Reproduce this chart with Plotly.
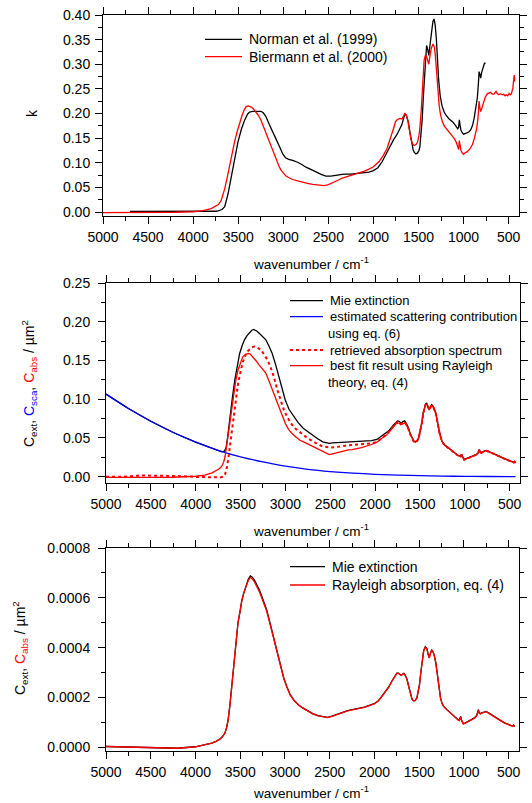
import plotly.graph_objects as go

# ---------------- Top panel: imaginary refractive index k ----------------
norman_wn = [4700, 4300, 3950, 3740, 3680, 3650, 3614, 3585, 3558, 3530, 3503, 3465, 3430, 3395, 3374,
             3340, 3290, 3246, 3220, 3190, 3154, 3115, 3080, 3040, 3006, 2975, 2940, 2896, 2860, 2841,
             2790, 2749, 2700, 2638, 2580, 2528, 2473, 2400, 2330, 2250, 2150, 2050, 2000, 1950, 1904,
             1860, 1813, 1776, 1740, 1710, 1685, 1665, 1649, 1630, 1612, 1595, 1576, 1560, 1547, 1528,
             1510, 1495, 1485, 1470, 1459, 1445, 1430, 1418, 1410, 1398, 1386, 1375, 1357, 1340, 1328,
             1315, 1302, 1290, 1277, 1260, 1240, 1215, 1193, 1160, 1120, 1090, 1065, 1055, 1047, 1040,
             1029, 1015, 1000, 970, 940, 920, 900, 883, 865, 847, 835, 828, 820, 810, 800, 781, 768, 756]
norman_k = [0.0012, 0.0008, 0.0008, 0.0015, 0.005, 0.011, 0.036, 0.065, 0.095, 0.120, 0.142, 0.168, 0.186, 0.199, 0.203,
            0.2045, 0.205, 0.2045, 0.201, 0.193, 0.177, 0.160, 0.148, 0.132, 0.118, 0.110, 0.107, 0.105, 0.103, 0.101,
            0.096, 0.091, 0.087, 0.081, 0.0765, 0.073, 0.073, 0.075, 0.077, 0.077, 0.079, 0.081, 0.084, 0.090, 0.102,
            0.118, 0.136, 0.147, 0.157, 0.167, 0.177, 0.190, 0.200, 0.194, 0.182, 0.162, 0.140, 0.127, 0.121, 0.118,
            0.120, 0.125, 0.132, 0.160, 0.188, 0.238, 0.288, 0.330, 0.338, 0.330, 0.318, 0.335, 0.367, 0.387, 0.392,
            0.380, 0.352, 0.310, 0.270, 0.237, 0.216, 0.203, 0.196, 0.189, 0.183, 0.176, 0.169, 0.172, 0.187, 0.178,
            0.166, 0.161, 0.158, 0.160, 0.163, 0.167, 0.176, 0.190, 0.208, 0.232, 0.262, 0.285, 0.280, 0.272, 0.283,
            0.298, 0.302, 0.302]

biermann_wn = [5000, 4800, 4600, 4400, 4200, 4000, 3890, 3800, 3750, 3720, 3690, 3670, 3650, 3620, 3595,
               3568, 3540, 3512, 3485, 3458, 3430, 3410, 3390, 3370, 3356, 3330, 3301, 3275, 3246, 3220,
               3190, 3160, 3135, 3108, 3080, 3050, 3025, 2995, 2970, 2930, 2896, 2840, 2786, 2730, 2675,
               2610, 2546, 2500, 2450, 2399, 2344, 2268, 2200, 2159, 2100, 2050, 2000, 1940, 1890, 1849,
               1810, 1776, 1755, 1740, 1710, 1685, 1665, 1649, 1635, 1619, 1600, 1583, 1565, 1547, 1528,
               1510, 1495, 1485, 1470, 1459, 1445, 1437, 1425, 1412, 1398, 1386, 1372, 1357, 1339, 1325,
               1313, 1300, 1284, 1270, 1255, 1235, 1211, 1185, 1157, 1130, 1102, 1080, 1065, 1055, 1047,
               1040, 1029, 1015, 1000, 985, 956, 930, 901, 880, 854, 840, 828, 820, 810, 795,
               781, 760, 737, 720, 701, 685, 664, 650, 640, 628, 610, 590, 570, 555, 540,
               525, 510, 495, 482, 470, 460, 453, 448, 443, 440, 437, 435, 432]
biermann_k = [-0.0012, -0.0012, -0.0010, -0.0010, -0.0005, 0.0005, 0.003, 0.007, 0.011, 0.015, 0.023, 0.033, 0.047, 0.072, 0.096,
              0.120, 0.143, 0.163, 0.180, 0.196, 0.209, 0.214, 0.2155, 0.2148, 0.213, 0.209, 0.203, 0.196, 0.186, 0.174,
              0.159, 0.145, 0.132, 0.119, 0.106, 0.094, 0.085, 0.078, 0.073, 0.069, 0.066, 0.063, 0.060, 0.058, 0.056,
              0.0548, 0.0535, 0.0555, 0.059, 0.064, 0.069, 0.073, 0.077, 0.079, 0.083, 0.087, 0.092, 0.102, 0.115, 0.129,
              0.149, 0.170, 0.183, 0.187, 0.190, 0.189, 0.195, 0.201, 0.196, 0.186, 0.165, 0.147, 0.138, 0.135, 0.137,
              0.142, 0.155, 0.170, 0.205, 0.232, 0.285, 0.309, 0.317, 0.317, 0.305, 0.300, 0.318, 0.333, 0.341, 0.335,
              0.318, 0.285, 0.245, 0.215, 0.197, 0.183, 0.174, 0.168, 0.163, 0.156, 0.149, 0.141, 0.134, 0.127, 0.145,
              0.132, 0.125, 0.120, 0.117, 0.120, 0.123, 0.128, 0.137, 0.150, 0.170, 0.190, 0.225, 0.212, 0.204, 0.212,
              0.222, 0.233, 0.240, 0.241, 0.243, 0.240, 0.239, 0.243, 0.245, 0.241, 0.238, 0.240, 0.238, 0.239, 0.236,
              0.238, 0.236, 0.241, 0.238, 0.240, 0.246, 0.252, 0.262, 0.270, 0.262, 0.278, 0.275, 0.265]

# ---------------- Middle panel: cross sections ----------------
sca_wn = [5000, 4750, 4500, 4250, 4000, 3750, 3500, 3250, 3000, 2750, 2500, 2250, 2000, 1750, 1500, 1250, 1000, 750, 435]
sca_c = [0.1065, 0.088, 0.0715, 0.057, 0.0445, 0.034, 0.0255, 0.019, 0.0135, 0.0095, 0.0066, 0.0045, 0.003, 0.002,
         0.0012, 0.0007, 0.0004, 0.0002, 0.0001]

mie_wn = [5000, 4750, 4500, 4250, 4000, 3850, 3750, 3710, 3680, 3660, 3645, 3630, 3619, 3590, 3564,
          3537, 3510, 3480, 3455, 3428, 3401, 3375, 3354, 3320, 3292, 3255, 3220, 3185, 3147, 3110,
          3074, 3040, 3002, 2960, 2911, 2860, 2802, 2750, 2693, 2640, 2584, 2512, 2474, 2400, 2257,
          2150, 2040, 1980, 1931, 1880, 1841, 1800, 1770, 1750, 1730, 1714, 1690, 1671, 1655, 1635,
          1610, 1588, 1570, 1551, 1533, 1515, 1495, 1479, 1463, 1450, 1437, 1425, 1410, 1396, 1385,
          1370, 1360, 1345, 1323, 1300, 1280, 1255, 1226, 1190, 1153, 1115, 1081, 1055, 1045, 1038,
          1030, 1020, 1008, 990, 954, 920, 882, 855, 845, 838, 830, 817, 800, 775, 755,
          720, 683, 640, 592, 550, 502, 470, 455, 445, 435]
mie_ext = [0.1065, 0.088, 0.0715, 0.057, 0.0445, 0.038, 0.0335, 0.032, 0.033, 0.038, 0.050, 0.066, 0.078, 0.103, 0.125,
           0.143, 0.159, 0.170, 0.177, 0.182, 0.186, 0.189, 0.190, 0.188, 0.185, 0.181, 0.177, 0.169, 0.159, 0.145,
           0.129, 0.113, 0.099, 0.087, 0.078, 0.070, 0.0625, 0.058, 0.054, 0.049, 0.045, 0.043, 0.0435, 0.0440, 0.0445,
           0.0450, 0.0465, 0.048, 0.052, 0.056, 0.060, 0.066, 0.0705, 0.072, 0.0715, 0.069, 0.071, 0.0720, 0.069, 0.0647,
           0.056, 0.0496, 0.0460, 0.0450, 0.0465, 0.0500, 0.060, 0.070, 0.083, 0.090, 0.094, 0.0948, 0.091, 0.087, 0.090,
           0.093, 0.092, 0.089, 0.082, 0.068, 0.056, 0.046, 0.041, 0.038, 0.0345, 0.031, 0.028, 0.0265, 0.0260, 0.029,
           0.027, 0.0235, 0.0222, 0.0230, 0.0245, 0.026, 0.028, 0.030, 0.0335, 0.035, 0.032, 0.0310, 0.0320, 0.0336, 0.0336,
           0.0320, 0.0300, 0.0280, 0.0252, 0.0230, 0.0207, 0.0195, 0.0185, 0.0195, 0.0180]

retr_wn = [5000, 4800, 4600, 4400, 4200, 4000, 3850, 3730, 3690, 3673, 3655, 3644, 3630, 3619, 3600,
           3583, 3555, 3528, 3500, 3474, 3445, 3419, 3385, 3354, 3320, 3274, 3240, 3201, 3165, 3129,
           3095, 3056, 3020, 2984, 2940, 2893, 2850, 2802, 2750, 2693, 2640, 2584, 2530, 2493, 2450,
           2403, 2330, 2257, 2150, 2040, 1980, 1931, 1880, 1841, 1800, 1770, 1750, 1730, 1714, 1690,
           1671, 1655, 1635, 1610, 1588, 1570, 1551, 1533, 1515, 1495, 1479, 1463, 1450, 1437, 1425,
           1410, 1396, 1385, 1370, 1360, 1345, 1323, 1300, 1280, 1255, 1226, 1190, 1153, 1115, 1081,
           1055, 1045, 1038, 1030, 1020, 1008, 990, 954, 920, 882, 855, 845, 838, 830, 817,
           800, 775, 755, 720, 683, 640, 592, 550, 502, 470, 455, 445, 435]
retr_abs = [0.000, 0.000, 0.0015, 0.0015, 0.0008, -0.0003, -0.0012, -0.0010, 0.000, 0.003, 0.010, 0.017, 0.028, 0.039, 0.056,
            0.073, 0.098, 0.120, 0.136, 0.148, 0.157, 0.162, 0.166, 0.168, 0.167, 0.164, 0.158, 0.151, 0.141, 0.129,
            0.114, 0.099, 0.087, 0.078, 0.069, 0.0625, 0.058, 0.054, 0.0495, 0.045, 0.042, 0.039, 0.0378, 0.0375, 0.0380,
            0.0390, 0.0400, 0.0410, 0.0420, 0.0430, 0.0450, 0.0496, 0.054, 0.059, 0.065, 0.069, 0.0705, 0.0700, 0.068, 0.0695,
            0.0705, 0.068, 0.064, 0.055, 0.049, 0.0455, 0.0445, 0.046, 0.0495, 0.059, 0.069, 0.082, 0.089, 0.093, 0.0938,
            0.090, 0.086, 0.089, 0.092, 0.091, 0.088, 0.081, 0.067, 0.055, 0.0455, 0.0405, 0.0375, 0.034, 0.0305, 0.0276,
            0.026, 0.0256, 0.0285, 0.0266, 0.0232, 0.0219, 0.0227, 0.0242, 0.0257, 0.0277, 0.0297, 0.0332, 0.0347, 0.0318, 0.0307,
            0.0317, 0.0333, 0.0333, 0.0317, 0.0297, 0.0277, 0.0249, 0.0227, 0.0204, 0.0192, 0.0182, 0.0192, 0.0177]

fit_wn = [5000, 4750, 4500, 4250, 4000, 3900, 3818, 3780, 3746, 3720, 3702, 3685, 3673, 3655, 3637,
          3610, 3583, 3555, 3528, 3500, 3474, 3440, 3412, 3390, 3365, 3330, 3292, 3255, 3220, 3185,
          3147, 3110, 3074, 3040, 3002, 2965, 2929, 2880, 2838, 2780, 2729, 2675, 2620, 2565, 2512,
          2474, 2440, 2367, 2300, 2257, 2150, 2040, 1980, 1931, 1880, 1841, 1800, 1770, 1750, 1730,
          1714, 1690, 1671, 1655, 1635, 1610, 1588, 1570, 1551, 1533, 1515, 1495, 1479, 1463, 1450,
          1437, 1425, 1410, 1396, 1385, 1370, 1360, 1345, 1323, 1300, 1280, 1255, 1226, 1190, 1153,
          1115, 1081, 1055, 1045, 1038, 1030, 1020, 1008, 990, 954, 920, 882, 855, 845, 838,
          830, 817, 800, 775, 755, 720, 683, 640, 592, 550, 502, 470, 455, 445, 435]
fit_abs = [-0.0010, -0.0012, -0.0012, -0.0008, 0.0005, 0.002, 0.005, 0.007, 0.0095, 0.012, 0.015, 0.020, 0.026, 0.040, 0.056,
           0.080, 0.103, 0.123, 0.138, 0.148, 0.155, 0.158, 0.159, 0.158, 0.155, 0.150, 0.144, 0.139, 0.134, 0.124,
           0.112, 0.101, 0.0905, 0.079, 0.069, 0.061, 0.056, 0.051, 0.047, 0.044, 0.041, 0.038, 0.0345, 0.031, 0.0284,
           0.0295, 0.0305, 0.0330, 0.0345, 0.0350, 0.0375, 0.0415, 0.0445, 0.049, 0.053, 0.058, 0.064, 0.068, 0.069, 0.0690,
           0.067, 0.0685, 0.0695, 0.067, 0.063, 0.055, 0.049, 0.0455, 0.0445, 0.046, 0.0495, 0.059, 0.069, 0.082, 0.089,
           0.093, 0.0935, 0.090, 0.086, 0.089, 0.092, 0.091, 0.088, 0.081, 0.067, 0.055, 0.0455, 0.0405, 0.0375, 0.034,
           0.0305, 0.0276, 0.026, 0.0256, 0.0285, 0.0266, 0.0232, 0.0219, 0.0227, 0.0242, 0.0257, 0.0277, 0.0297, 0.0332, 0.0347,
           0.0318, 0.0307, 0.0317, 0.0333, 0.0333, 0.0317, 0.0297, 0.0277, 0.0249, 0.0227, 0.0204, 0.0192, 0.0182, 0.0192, 0.0177]

# ---------------- Bottom panel: small particles ----------------
small_wn = [5000, 4800, 4600, 4400, 4200, 4000, 3927, 3870, 3818, 3770, 3726, 3700, 3672, 3655, 3635,
            3615, 3598, 3580, 3562, 3543, 3525, 3500, 3482, 3460, 3434, 3410, 3387, 3365, 3343, 3315,
            3288, 3260, 3234, 3205, 3179, 3150, 3124, 3095, 3069, 3040, 3014, 2980, 2942, 2900, 2850,
            2800, 2741, 2690, 2631, 2575, 2522, 2475, 2431, 2358, 2300, 2221, 2112, 2004, 1960, 1931,
            1890, 1841, 1800, 1769, 1750, 1732, 1715, 1703, 1685, 1671, 1655, 1635, 1615, 1598, 1580,
            1562, 1545, 1526, 1510, 1497, 1482, 1468, 1450, 1432, 1414, 1400, 1388, 1374, 1360, 1347,
            1334, 1315, 1298, 1280, 1262, 1245, 1226, 1190, 1153, 1115, 1081, 1060, 1052, 1044, 1037,
            1030, 1020, 1008, 990, 954, 920, 882, 858, 845, 838, 830, 817, 800, 775, 755,
            730, 705, 683, 640, 592, 545, 500, 470, 455, 445, 435]
small_abs = [0.000003, 0.000001, -0.000003, -0.000005, -0.000004, 0.000002, 0.000008, 0.000012, 0.000017, 0.000024,
             0.000033, 0.000042, 0.000056, 0.000075, 0.00011, 0.00017, 0.00023, 0.00031, 0.00038, 0.00045,
             0.00050, 0.00055, 0.00059, 0.00062, 0.00065, 0.00067, 0.000682, 0.000676, 0.000665, 0.000648,
             0.000626, 0.000600, 0.000577, 0.000547, 0.000512, 0.000470, 0.000431, 0.000388, 0.000351, 0.000312,
             0.000277, 0.000243, 0.000210, 0.000188, 0.000170, 0.000157, 0.000145, 0.000134, 0.000126, 0.000121,
             0.000119, 0.000124, 0.000130, 0.000139, 0.000146, 0.000152, 0.000160, 0.000174, 0.000185, 0.000197,
             0.000215, 0.000241, 0.000268, 0.000289, 0.000297, 0.000297, 0.000290, 0.000288, 0.000293, 0.000296,
             0.000288, 0.000270, 0.000240, 0.000210, 0.000192, 0.000186, 0.000187, 0.000197, 0.000225, 0.000250,
             0.000300, 0.000351, 0.000388, 0.000402, 0.000394, 0.000372, 0.000358, 0.000378, 0.000389, 0.000383,
             0.000371, 0.000340, 0.000297, 0.000240, 0.000197, 0.000176, 0.000163, 0.000150, 0.000137, 0.000125,
             0.000113, 0.000108, 0.000107, 0.000115, 0.000123, 0.000110, 0.000100, 0.000094, 0.000096, 0.000102,
             0.000108, 0.000117, 0.000127, 0.000140, 0.000150, 0.000137, 0.000134, 0.000137, 0.000142, 0.000143,
             0.000138, 0.000132, 0.000126, 0.000117, 0.000107, 0.000097, 0.000089, 0.000086, 0.000085, 0.000088, 0.000082]
small_ext = [0.000003, 0.000001, -0.000003, -0.000005, -0.000004, 0.000002, 0.000008, 0.000012, 0.000017, 0.000024,
             0.000033, 0.000042, 0.000056, 0.000075, 0.00011, 0.00017, 0.00023, 0.00031, 0.00038, 0.00045,
             0.00050, 0.00055, 0.00059, 0.00062, 0.000652, 0.000674, 0.000688, 0.000683, 0.000672, 0.000655,
             0.000633, 0.000607, 0.000583, 0.000552, 0.000516, 0.000473, 0.000433, 0.000390, 0.000352, 0.000313,
             0.000278, 0.000244, 0.000211, 0.000189, 0.000171, 0.000158, 0.000146, 0.000135, 0.000127, 0.000122,
             0.000120, 0.000125, 0.000131, 0.000140, 0.000147, 0.000153, 0.000161, 0.000175, 0.000186, 0.000198,
             0.000216, 0.000242, 0.000269, 0.000290, 0.000298, 0.000298, 0.000291, 0.000289, 0.000294, 0.000297,
             0.000289, 0.000271, 0.000241, 0.000211, 0.000193, 0.000187, 0.000188, 0.000198, 0.000226, 0.000251,
             0.000301, 0.000352, 0.000389, 0.000404, 0.000396, 0.000373, 0.000359, 0.000379, 0.000390, 0.000384,
             0.000372, 0.000341, 0.000298, 0.000241, 0.000198, 0.000177, 0.000164, 0.000151, 0.000138, 0.000126,
             0.000114, 0.000109, 0.000108, 0.000116, 0.000124, 0.000111, 0.000101, 0.000095, 0.000097, 0.000103,
             0.000109, 0.000118, 0.000128, 0.000141, 0.000151, 0.000138, 0.000135, 0.000138, 0.000143, 0.000144,
             0.000139, 0.000133, 0.000127, 0.000118, 0.000108, 0.000098, 0.000090, 0.000087, 0.000086, 0.000089, 0.000083]

BLACK, RED, BLUE = "#000000", "#ff0000", "#0000ff"
FONT = "Liberation Sans, Arial, sans-serif"
LW = 1.3

W, H = 532, 803
ML, MR = 100, 12
PW = W - ML - MR


def px_x(p):
    return (p - ML) / PW


def px_y(p):
    return 1 - p / H


fig = go.Figure()

fig.add_trace(go.Scatter(x=norman_wn, y=norman_k, mode="lines", name="Norman et al. (1999)",
                         line=dict(color=BLACK, width=LW), xaxis="x", yaxis="y"))
fig.add_trace(go.Scatter(x=biermann_wn, y=biermann_k, mode="lines", name="Biermann et al. (2000)",
                         line=dict(color=RED, width=LW), xaxis="x", yaxis="y"))
fig.add_trace(go.Scatter(x=mie_wn, y=mie_ext, mode="lines", name="Mie extinction",
                         line=dict(color=BLACK, width=LW), xaxis="x2", yaxis="y2"))
fig.add_trace(go.Scatter(x=sca_wn, y=sca_c, mode="lines", name="estimated scattering contribution using eq. (6)",
                         line=dict(color=BLUE, width=LW, shape="spline"), xaxis="x2", yaxis="y2"))
fig.add_trace(go.Scatter(x=retr_wn, y=retr_abs, mode="lines", name="retrieved absorption spectrum",
                         line=dict(color=RED, width=2, dash="dot"), xaxis="x2", yaxis="y2"))
fig.add_trace(go.Scatter(x=fit_wn, y=fit_abs, mode="lines", name="best fit result using Rayleigh theory, eq. (4)",
                         line=dict(color=RED, width=LW), xaxis="x2", yaxis="y2"))
fig.add_trace(go.Scatter(x=small_wn, y=small_ext, mode="lines", name="Mie extinction",
                         line=dict(color=BLACK, width=LW), xaxis="x3", yaxis="y3"))
fig.add_trace(go.Scatter(x=small_wn, y=small_abs, mode="lines", name="Rayleigh absorption, eq. (4)",
                         line=dict(color=RED, width=LW), xaxis="x3", yaxis="y3"))


def xaxis_style(dom, anchor):
    return dict(domain=dom, anchor=anchor, range=[5000, 385], tickmode="linear", tick0=500, dtick=500,
                showline=True, linecolor="black", linewidth=1, mirror="ticks", ticks="outside",
                ticklen=7, tickwidth=1, tickcolor="black", showgrid=False, zeroline=False, automargin=False,
                minor=dict(ticks="outside", ticklen=4, dtick=250, tick0=500, tickcolor="black", showgrid=False),
                tickfont=dict(family=FONT, size=14, color="black"), ticklabelstandoff=1)


def yaxis_style(dom, anchor, rng, dtick, fmt, mdtick, standoff):
    return dict(domain=dom, anchor=anchor, range=rng, tickmode="linear", tick0=0, dtick=dtick, tickformat=fmt,
                showline=True, linecolor="black", linewidth=1, mirror="ticks", ticks="outside",
                ticklen=7, tickwidth=1, tickcolor="black", showgrid=False, zeroline=False, automargin=False,
                minor=dict(ticks="outside", ticklen=4, dtick=mdtick, tick0=0, tickcolor="black", showgrid=False),
                tickfont=dict(family=FONT, size=14, color="black"), ticklabelstandoff=standoff)


fig.update_layout(
    width=W, height=H, autosize=False,
    margin=dict(l=ML, r=MR, t=0, b=0),
    paper_bgcolor="white", plot_bgcolor="white",
    font=dict(family=FONT, size=14, color="black"),
    showlegend=False,
    xaxis=xaxis_style([px_x(103), px_x(519)], "y"),
    yaxis=yaxis_style([px_y(216), px_y(15)], "x", [-0.0081, 0.40], 0.05, ".2f", 0.025, 2),
    xaxis2=xaxis_style([px_x(106), px_x(520)], "y2"),
    yaxis2=yaxis_style([px_y(483), px_y(283)], "x2", [-0.0082, 0.25], 0.05, ".2f", 0.025, 5),
    xaxis3=xaxis_style([px_x(106), px_x(519)], "y3"),
    yaxis3=yaxis_style([px_y(751), px_y(548)], "x3", [-0.000015, 0.0008], 0.0002, ".4f", 0.0001, 5),
)

# legends (drawn per panel): sample line + label lines
legend_rows = [
    # (x0, x1, y, color, dash, width, text_x, font size, [text lines])
    (205, 242, 39.3, BLACK, "solid", LW, 247, 14, ["Norman et al. (1999)"]),
    (205, 242, 56.7, RED, "solid", LW, 247, 14, ["Biermann et al. (2000)"]),
    (290, 323, 300.7, BLACK, "solid", LW, 328, 13, ["Mie extinction"]),
    (290, 323, 316.7, BLUE, "solid", LW, 328, 13, ["estimated scattering contribution", "using eq. (6)"]),
    (290, 323, 350.0, RED, "dot", 2, 328, 13, ["retrieved absorption spectrum"]),
    (290, 323, 365.7, RED, "solid", LW, 328, 13, ["best fit result using Rayleigh", "theory, eq. (4)"]),
    (290, 325, 566.7, BLACK, "solid", LW, 330, 14, ["Mie extinction"]),
    (290, 325, 585.0, RED, "solid", LW, 330, 14, ["Rayleigh absorption, eq. (4)"]),
]
for x0, x1, yy, col, dash, wdt, tx, fs, lines in legend_rows:
    fig.add_shape(type="line", xref="paper", yref="paper", x0=px_x(x0), x1=px_x(x1), y0=px_y(yy), y1=px_y(yy),
                  line=dict(color=col, width=wdt, dash=dash))
    for i, t in enumerate(lines):
        fig.add_annotation(text=t, xref="paper", yref="paper", x=px_x(tx - (2 if i else 0)), y=px_y(yy + 16.5 * i),
                           xanchor="left", yanchor="middle", showarrow=False,
                           font=dict(family=FONT, size=fs, color="black"))

# axis titles
ann_font = dict(family=FONT, size=13.5, color="black")
xt = "wavenumber / cm<sup>-1</sup>"
for ycen in (263, 530, 792):
    fig.add_annotation(text=xt, xref="paper", yref="paper", x=px_x(311), y=px_y(ycen),
                       xanchor="center", yanchor="middle", showarrow=False, font=ann_font)

fig.add_annotation(text="k", xref="paper", yref="paper", x=px_x(32), y=px_y(113), textangle=-90,
                   xanchor="center", yanchor="middle", showarrow=False, font=dict(family=FONT, size=14, color="black"))
fig.add_annotation(
    text="C<sub>ext</sub>, <span style='color:#0000ff'>C<sub>sca</sub></span>, "
         "<span style='color:#ff0000'>C<sub>abs</sub></span> / µm<sup>2</sup>",
    xref="paper", yref="paper", x=px_x(29), y=px_y(384), textangle=-90,
    xanchor="center", yanchor="middle", showarrow=False, font=dict(family=FONT, size=14, color="black"))
fig.add_annotation(
    text="C<sub>ext</sub>, <span style='color:#ff0000'>C<sub>abs</sub></span> / µm<sup>2</sup>",
    xref="paper", yref="paper", x=px_x(20), y=px_y(648), textangle=-90,
    xanchor="center", yanchor="middle", showarrow=False, font=dict(family=FONT, size=14, color="black"))

fig.write_html("out.html", config={"displayModeBar": False},
               post_script="document.body.style.margin='0px';document.body.style.overflow='hidden';")
